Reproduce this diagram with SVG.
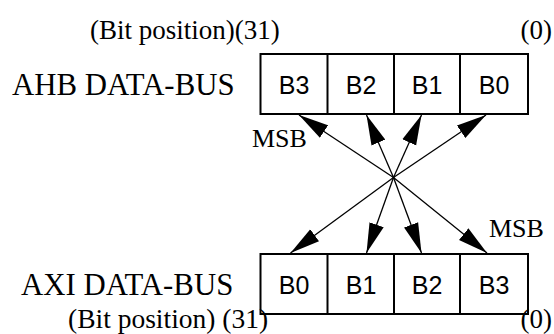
<svg xmlns="http://www.w3.org/2000/svg" width="554" height="334" viewBox="0 0 554 334">
<style>
.serif{font-family:"Liberation Serif","Times New Roman",serif;fill:#000}
.lbl{font-size:27px}
.bus{font-size:30.8px}
.msb{font-size:26px}
.cell{font-family:"Liberation Sans",Arial,sans-serif;font-size:25px;text-anchor:middle;fill:#000}
.box{fill:#fff;stroke:#000;stroke-width:2}
.conn{stroke:#000;stroke-width:1.3;fill:none;marker-end:url(#ah)}
</style>
<defs>
<marker id="ah" markerUnits="userSpaceOnUse" markerWidth="31" markerHeight="16" refX="30" refY="8" orient="auto" viewBox="0 0 31 16">
<path d="M0,0.5 L30,8 L0,15.5 z" fill="#000"/>
</marker>
</defs>
<text class="serif lbl" x="90" y="39">(Bit position)(31)</text>
<text class="serif lbl" x="552" y="39" text-anchor="end">(0)</text>
<g id="ahb">
<text class="serif bus" x="12" y="95">AHB DATA-BUS</text>
<rect class="box" x="260.5" y="54" width="267.5" height="60"/>
<line class="box" x1="327.5" y1="54" x2="327.5" y2="114"/>
<line class="box" x1="394" y1="54" x2="394" y2="114"/>
<line class="box" x1="460" y1="54" x2="460" y2="114"/>
<text class="cell" x="294" y="94">B3</text>
<text class="cell" x="361" y="94">B2</text>
<text class="cell" x="427" y="94">B1</text>
<text class="cell" x="494" y="94">B0</text>
</g>
<g id="axi">
<text class="serif bus" x="21" y="295">AXI DATA-BUS</text>
<rect class="box" x="260.5" y="254" width="267.5" height="60"/>
<line class="box" x1="327.5" y1="254" x2="327.5" y2="314"/>
<line class="box" x1="394" y1="254" x2="394" y2="314"/>
<line class="box" x1="460" y1="254" x2="460" y2="314"/>
<text class="cell" x="294" y="294">B0</text>
<text class="cell" x="361" y="294">B1</text>
<text class="cell" x="427" y="294">B2</text>
<text class="cell" x="494" y="294">B3</text>
</g>
<g id="connectors">
<line class="conn" x1="393.5" y1="177.5" x2="299" y2="115"/>
<line class="conn" x1="393.5" y1="177.5" x2="366.5" y2="115"/>
<line class="conn" x1="393.5" y1="177.5" x2="421.5" y2="115"/>
<line class="conn" x1="393.5" y1="177.5" x2="486" y2="115"/>
<line class="conn" x1="393.5" y1="177.5" x2="290.5" y2="253"/>
<line class="conn" x1="393.5" y1="177.5" x2="366.5" y2="253"/>
<line class="conn" x1="393.5" y1="177.5" x2="421.5" y2="253"/>
<line class="conn" x1="393.5" y1="177.5" x2="487" y2="253"/>
</g>
<text class="serif msb" x="252" y="147">MSB</text>
<text class="serif msb" x="489" y="237">MSB</text>
<text class="serif lbl" x="68" y="328" style="font-size:27.5px">(Bit position) (31)</text>
<text class="serif lbl" x="552" y="328" text-anchor="end">(0)</text>
</svg>
